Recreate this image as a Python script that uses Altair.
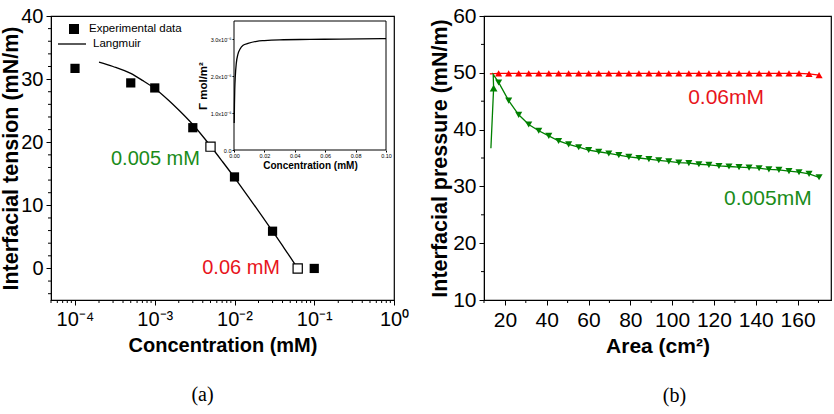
import altair as alt
import pandas as pd

FONT = "Liberation Sans"
SERIF = "Liberation Serif"
GREEN = "#008000"
RED = "#ff0000"
TXT_GREEN = "#1a8c1a"
TXT_RED = "#e8141c"

# ---------------- panel (a) data ----------------
exp_conc = [1e-4, 5e-4, 1e-3, 3e-3, 1e-2, 3e-2, 1e-1]
exp_tension = [31.7, 29.4, 28.6, 22.3, 14.5, 5.9, 0.0]
open_conc = [5e-3, 6.2e-2]
open_tension = [19.3, 0.0]
lang_conc = [2e-4, 3e-4, 5e-4, 7e-4, 1e-3, 1.5e-3, 2e-3, 3e-3, 5e-3, 7e-3, 1e-2, 1.5e-2, 2e-2, 3e-2,
             4e-2, 5e-2, 6.2e-2]
lang_tension = [32.7, 32.0, 30.9, 29.8, 28.5, 26.6, 25.1, 22.8, 19.4, 17.0, 14.4, 11.3, 9.1, 5.9,
                3.6, 1.8, 0.0]
legend_names = ["Experimental data", "Langmuir"]

a_x_major = [1e-4, 1e-3, 1e-2, 1e-1, 1.0]
a_x_labels = ["10⁻⁴", "10⁻³", "10⁻²", "10⁻¹", "10⁰"]
a_y_major = [0, 10, 20, 30, 40]
a_x_minor = [m * 10.0 ** e for e in range(-5, 0) for m in range(2, 10) if m * 10.0 ** e >= 5e-5]
a_y_minor = [v for v in range(-4, 40, 2) if v % 10 != 0]

# inset
inset_conc = [0.00014, 0.0003, 0.0005, 0.00086, 0.0015, 0.0026, 0.004, 0.006, 0.0092, 0.015, 0.02, 0.03, 0.05, 0.07, 0.1]
inset_gamma_e6 = [0.73, 1.23, 1.64, 2.0, 2.35, 2.6, 2.74, 2.84, 2.89, 2.95, 2.97, 2.99, 3.0, 3.01, 3.02]
inset_x_ticks = [0, 0.02, 0.04, 0.06, 0.08, 0.10]
inset_y_ticks = [0, 1e-6, 2e-6, 3e-6]

# ---------------- panel (b) data ----------------
area = [17.0, 21.8, 26.6, 31.4, 36.2, 41.0, 45.7, 50.5, 55.3, 60.1, 64.9, 69.7, 74.5, 79.3, 84.1, 88.9,
        93.6, 98.4, 103.2, 108.0, 112.8, 117.6, 122.4, 127.2, 132.0, 136.8, 141.6, 146.3, 151.1, 155.9,
        160.7, 165.5, 170.3]
red_pressure = [49.9] * 31 + [49.8, 49.6]
green_pressure = [48.3, 45.1, 42.6, 40.9, 39.8, 38.9, 38.0, 37.4, 36.9, 36.4, 36.1, 35.8, 35.5, 35.2, 35.0,
                  34.8, 34.6, 34.4, 34.2, 34.1, 33.9, 33.8, 33.6, 33.5, 33.4, 33.3, 33.2, 33.0, 32.9, 32.7,
                  32.5, 32.2, 31.6]
red_start = (12.8, 49.8)
green_start_area = [13.3, 14.6, 14.4]
green_start_pressure = [36.7, 47.3, 49.7]

b_x_major = [20, 40, 60, 80, 100, 120, 140, 160]
b_y_major = [10, 20, 30, 40, 50, 60]
b_x_minor = [10, 30, 50, 70, 90, 110, 130, 150, 170]
b_y_minor = [15, 25, 35, 45, 55]

W_A, W_B, H = 343, 347, 284

# ---------------- panel (a) ----------------
xa = alt.Scale(type="log", domain=[5e-5, 1], nice=False)
ya = alt.Scale(domain=[-5, 40], nice=False)

lab_expr = f"'{a_x_labels[-1]}'"
for v, lab in reversed(list(zip(a_x_major[:-1], a_x_labels[:-1]))):
    lab_expr = f"datum.value < {v * 3} ? '{lab}' : ({lab_expr})"

ax_a_x = alt.Axis(values=a_x_major, labelExpr=lab_expr, title="Concentration (mM)", labelFontSize=20,
                  tickSize=5, labelPadding=4, titleFontSize=20, titlePadding=6, grid=False,
                  labelFlush=False, labelOverlap=False)
ax_a_y = alt.Axis(values=a_y_major, title="Interfacial tension (mN/m)", labelFontSize=20, tickSize=5,
                  labelPadding=3, titleFontSize=21.5, titlePadding=-2, grid=False, labelFlush=False)

lang_df = pd.DataFrame({"x": lang_conc, "y": lang_tension, "series": legend_names[1]})
exp_df = pd.DataFrame({"x": exp_conc, "y": exp_tension, "series": legend_names[0]})
open_df = pd.DataFrame({"x": open_conc, "y": open_tension})

lang_line = alt.Chart(lang_df).mark_line(strokeWidth=1.3, interpolate="monotone").encode(
    x=alt.X("x:Q", scale=xa, axis=ax_a_x), y=alt.Y("y:Q", scale=ya, axis=ax_a_y),
    stroke=alt.Stroke("series:N", scale=alt.Scale(domain=[legend_names[1]], range=["black"]),
                      legend=alt.Legend(title=None, orient="none", legendX=6, legendY=13, labelFontSize=11.5,
                                        labelFont=FONT, labelColor="black", symbolType="stroke",
                                        symbolSize=784, symbolStrokeWidth=1.3, labelOffset=6, padding=0)))

exp_pts = alt.Chart(exp_df).mark_point(shape="square", filled=True, size=85, opacity=1).encode(
    x=alt.X("x:Q", scale=xa), y=alt.Y("y:Q", scale=ya),
    fill=alt.Fill("series:N", scale=alt.Scale(domain=[legend_names[0]], range=["black"]),
                  legend=alt.Legend(title=None, orient="none", legendX=17, legendY=7, labelFontSize=11.5,
                                    labelFont=FONT, labelColor="black", symbolType="square",
                                    symbolSize=100, symbolOpacity=1, labelOffset=9, padding=0)))

open_pts = alt.Chart(open_df).mark_point(shape="square", filled=True, size=85, fill="white", stroke="black",
                                         strokeWidth=1.2, opacity=1).encode(
    x=alt.X("x:Q", scale=xa), y=alt.Y("y:Q", scale=ya))

a_xminor_df = pd.DataFrame({"x": a_x_minor})
a_yminor_df = pd.DataFrame({"y": a_y_minor})
a_xminor = alt.Chart(a_xminor_df).mark_rule(color="black", strokeWidth=1).encode(
    x=alt.X("x:Q", scale=xa), y=alt.value(H), y2=alt.value(H + 3))
a_yminor = alt.Chart(a_yminor_df).mark_rule(color="black", strokeWidth=1).encode(
    y=alt.Y("y:Q", scale=ya), x=alt.value(-3), x2=alt.value(0))

a_text_df = pd.DataFrame({"x": [1.02e-3, 0.0121], "y": [17.3, 0.0], "t": ["0.005 mM", "0.06 mM"],
                          "c": [TXT_GREEN, TXT_RED]})
a_text = alt.Chart(a_text_df).mark_text(fontSize=20, font=FONT, align="center", baseline="middle").encode(
    x=alt.X("x:Q", scale=xa), y=alt.Y("y:Q", scale=ya), text="t:N", color=alt.Color("c:N", scale=None))

main_a = alt.layer(lang_line, a_xminor, a_yminor, exp_pts, open_pts, a_text)

# inset (independent scales, placed with pixel ranges inside panel a)
xi = alt.Scale(domain=[0, 0.1], range=[183, 335], nice=False)
yi = alt.Scale(domain=[0, 3.5e-6], range=[134, 5], nice=False)
inset_frame_df = pd.DataFrame({"x0": [0.0], "x1": [0.1], "y0": [0.0], "y1": [3.5e-6]})
inset_df = pd.DataFrame({"c": inset_conc, "g": [v * 1e-6 for v in inset_gamma_e6]})

ylab = "datum.value == 0 ? '0.0' : format(datum.value * 1e6, '.1f') + 'x10⁻⁶'"
inset_frame = alt.Chart(inset_frame_df).mark_rect(fill="white", stroke="black", strokeWidth=1).encode(
    x=alt.X("x0:Q", scale=xi,
            axis=alt.Axis(orient="bottom", offset=-150, values=inset_x_ticks, format=".2f", labelFontSize=5.5,
                          tickSize=2, labelPadding=1, title="Concentration (mM)", titleFontSize=10,
                          titlePadding=2, grid=False, domain=False, labelFlush=False)),
    x2="x1:Q",
    y=alt.Y("y0:Q", scale=yi,
            axis=alt.Axis(orient="left", offset=-183, values=inset_y_ticks, labelExpr=ylab, labelFontSize=5.5,
                          tickSize=2, labelPadding=1, title="Γ mol/m²", titleFontSize=11.5,
                          titlePadding=2, grid=False, domain=False, labelFlush=False)),
    y2="y1:Q")
inset_curve = alt.Chart(inset_df).mark_line(color="black", strokeWidth=1.3, interpolate="monotone").encode(
    x=alt.X("c:Q", scale=xi), y=alt.Y("g:Q", scale=yi))
inset = alt.layer(inset_frame, inset_curve)

left = alt.layer(main_a, inset).resolve_scale(x="independent", y="independent").properties(
    width=W_A, height=H,
    title=alt.TitleParams("(a)", orient="bottom", font=SERIF, fontSize=20, fontWeight="normal",
                          offset=30, dx=-20))

# ---------------- panel (b) ----------------
xb = alt.Scale(domain=[10, 176], nice=False)
yb = alt.Scale(domain=[10, 60], nice=False)
ax_b_x = alt.Axis(values=b_x_major, title="Area (cm²)", labelFontSize=21, tickSize=5, labelPadding=4,
                  titleFontSize=21, titlePadding=5, grid=False, labelFlush=False)
ax_b_y = alt.Axis(values=b_y_major, title="Interfacial pressure (mN/m)", labelFontSize=21, tickSize=5,
                  labelPadding=3, titleFontSize=21.5, titlePadding=1, grid=False, labelFlush=False)

red_line_df = pd.DataFrame({"x": [red_start[0]] + area, "y": [red_start[1]] + red_pressure})
red_line_df["i"] = range(len(red_line_df))
red_pts_df = pd.DataFrame({"x": area, "y": red_pressure})
green_line_df = pd.DataFrame({"x": green_start_area + area, "y": green_start_pressure + green_pressure})
green_line_df["i"] = range(len(green_line_df))
green_up_df = pd.DataFrame({"x": green_start_area[1:2], "y": green_start_pressure[1:2]})
green_dn_df = pd.DataFrame({"x": area, "y": green_pressure})

red_line = alt.Chart(red_line_df).mark_line(color=RED, strokeWidth=1.3).encode(
    x=alt.X("x:Q", scale=xb, axis=ax_b_x), y=alt.Y("y:Q", scale=yb, axis=ax_b_y), order=alt.Order("i:Q"))
red_pts = alt.Chart(red_pts_df).mark_point(shape="triangle-up", filled=True, size=50, color=RED,
                                           opacity=1).encode(
    x=alt.X("x:Q", scale=xb), y=alt.Y("y:Q", scale=yb))
green_line = alt.Chart(green_line_df).mark_line(color=GREEN, strokeWidth=1.3).encode(
    x=alt.X("x:Q", scale=xb), y=alt.Y("y:Q", scale=yb), order=alt.Order("i:Q"))
green_up = alt.Chart(green_up_df).mark_point(shape="triangle-up", filled=True, size=60, color=GREEN,
                                             opacity=1).encode(
    x=alt.X("x:Q", scale=xb), y=alt.Y("y:Q", scale=yb))
green_dn = alt.Chart(green_dn_df).mark_point(shape="triangle-down", filled=True, size=50, color=GREEN,
                                             opacity=1).encode(
    x=alt.X("x:Q", scale=xb), y=alt.Y("y:Q", scale=yb))

b_xminor = alt.Chart(pd.DataFrame({"x": b_x_minor})).mark_rule(color="black").encode(
    x=alt.X("x:Q", scale=xb), y=alt.value(H), y2=alt.value(H + 3))
b_yminor = alt.Chart(pd.DataFrame({"y": b_y_minor})).mark_rule(color="black").encode(
    y=alt.Y("y:Q", scale=yb), x=alt.value(-3), x2=alt.value(0))

b_text_df = pd.DataFrame({"x": [125.8, 145.8], "y": [45.6, 27.7], "t": ["0.06mM", "0.005mM"],
                          "c": [TXT_RED, TXT_GREEN]})
b_text = alt.Chart(b_text_df).mark_text(fontSize=21, font=FONT, align="center", baseline="middle").encode(
    x=alt.X("x:Q", scale=xb), y=alt.Y("y:Q", scale=yb), text="t:N", color=alt.Color("c:N", scale=None))

right = alt.layer(red_line, b_xminor, b_yminor, green_line, red_pts, green_up, green_dn, b_text).properties(
    width=W_B, height=H,
    title=alt.TitleParams("(b)", orient="bottom", font=SERIF, fontSize=20, fontWeight="normal",
                          offset=30, dx=17))

chart = alt.hconcat(left, right, spacing=90, bounds="flush").properties(
    padding={"left": 0, "top": 4, "right": 0, "bottom": 0}
).configure(font=FONT).configure_view(stroke="black", strokeWidth=1.2).configure_axis(
    labelFont=FONT, titleFont=FONT, labelColor="black", titleColor="black", domainColor="black",
    tickColor="black", titleFontWeight="bold", labelFontWeight="normal"
).configure_title(color="black")

chart.save("out.html", embed_options={"renderer": "svg", "actions": False})
